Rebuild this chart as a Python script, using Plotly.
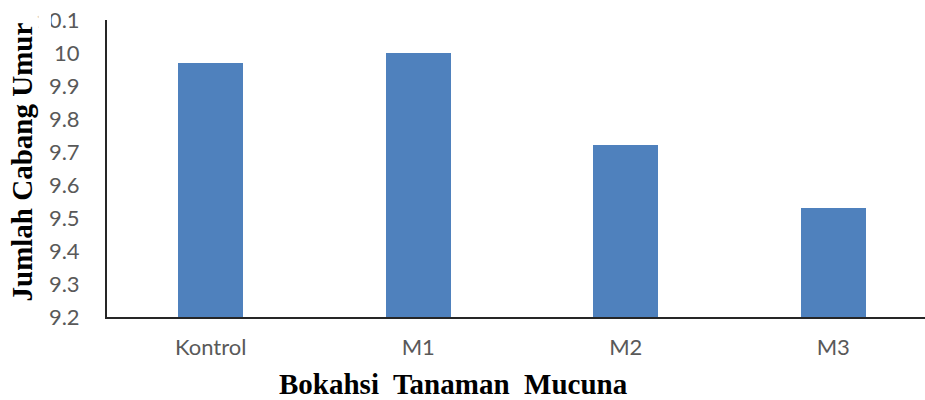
import plotly.graph_objects as go

# Treatment groups and mean branch counts
categories = ["Kontrol", "M1", "M2", "M3"]
branch_counts = [9.97, 10.0, 9.72, 9.53]

y_tick_values = [9.2, 9.3, 9.4, 9.5, 9.6, 9.7, 9.8, 9.9, 10.0, 10.1]
y_tick_labels = ["9.2", "9.3", "9.4", "9.5", "9.6", "9.7", "9.8", "9.9", "10", "10.1"]

x_title = "Bokahsi  Tanaman  Mucuna"
y_title = "Jumlah Cabang Umur"

tick_font = dict(family="Lato, Open Sans, sans-serif", size=22, color="#595959")
title_font = dict(family="Liberation Serif, Times New Roman, serif", size=29, color="#000000")

fig = go.Figure(
    go.Bar(
        x=categories,
        y=branch_counts,
        width=0.313,
        marker=dict(color="#4F81BD", line=dict(width=0)),
    )
)

fig.update_layout(
    width=925,
    height=400,
    margin=dict(l=107, r=0, t=20, b=83),
    paper_bgcolor="white",
    plot_bgcolor="white",
    showlegend=False,
    bargap=0,
)

fig.update_xaxes(
    range=[-0.5, 3.442],
    showline=True,
    linecolor="#262626",
    linewidth=2,
    showgrid=False,
    ticks="",
    tickfont=tick_font,
    ticklabelstandoff=10,
)

fig.update_yaxes(
    range=[9.2, 10.1],
    tickvals=y_tick_values,
    ticktext=y_tick_labels,
    showline=True,
    linecolor="#262626",
    linewidth=2,
    showgrid=False,
    zeroline=False,
    ticks="",
    tickfont=tick_font,
    ticklabelstandoff=21,
)

# The top tick label is clipped on its left by the label box edge
fig.add_shape(
    type="rect",
    xref="paper", yref="paper",
    x0=-0.0840, x1=-0.0685, y0=0.953, y1=1.045,
    fillcolor="white", line=dict(width=0),
    layer="above",
)

# Axis titles
fig.add_annotation(
    text=f"<b>{x_title}</b>",
    xref="paper", yref="paper",
    x=0.423, y=-0.226,
    xanchor="center", yanchor="middle",
    showarrow=False,
    font=title_font,
)
fig.add_annotation(
    text=f"<b>{y_title}</b>",
    xref="paper", yref="paper",
    x=-0.1045, y=0.522,
    xanchor="center", yanchor="middle",
    textangle=-90,
    showarrow=False,
    font=title_font,
)

fig.write_html("out.html")
